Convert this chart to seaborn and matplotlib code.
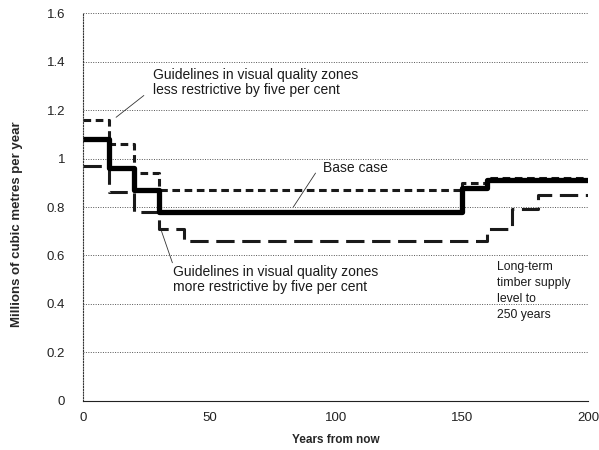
import numpy as np
import pandas as pd
import matplotlib
matplotlib.use('Agg')
import matplotlib.pyplot as plt
import seaborn as sns
from matplotlib.ticker import FuncFormatter

# Step breakpoints (years from now) and harvest levels (million m3/yr)
years = [0, 10, 20, 30, 40, 150, 160, 170, 180, 200]
base_case = [1.08, 0.96, 0.87, 0.78, 0.78, 0.88, 0.91, 0.91, 0.91, 0.91]
less_restrictive = [1.16, 1.06, 0.94, 0.87, 0.87, 0.90, 0.92, 0.92, 0.92, 0.92]
more_restrictive = [0.97, 0.86, 0.78, 0.71, 0.66, 0.66, 0.71, 0.79, 0.85, 0.85]
y_ticks = [0, 0.2, 0.4, 0.6, 0.8, 1.0, 1.2, 1.4, 1.6]
x_ticks = [0, 50, 100, 150, 200]

sns.set_theme(style="white")
plt.rcParams['font.family'] = ['Liberation Sans', 'DejaVu Sans']

fig = plt.figure(figsize=(5.99, 4.5), dpi=100)
ax = fig.add_axes([0.139, 0.109, 0.843, 0.862])

df = pd.DataFrame({'Years': years, 'Base': base_case,
                   'Less': less_restrictive, 'More': more_restrictive})

sns.lineplot(data=df, x='Years', y='More', ax=ax, color='#1a1a1a',
             linewidth=2.2, linestyle=(0, (6, 2.5)),
             drawstyle='steps-post', estimator=None, sort=False)
sns.lineplot(data=df, x='Years', y='Less', ax=ax, color='#1a1a1a',
             linewidth=2.2, linestyle=(0, (2.5, 1.5)),
             drawstyle='steps-post', estimator=None, sort=False)
sns.lineplot(data=df, x='Years', y='Base', ax=ax, color='black',
             linewidth=3.8, drawstyle='steps-post', estimator=None, sort=False)

ax.set_xlim(0, 200)
ax.set_ylim(0, 1.6)
ax.set_xticks(x_ticks)
ax.set_yticks(y_ticks)
ax.yaxis.set_major_formatter(FuncFormatter(lambda v, p: '%g' % round(v, 1)))
ax.tick_params(axis='x', labelsize=9.5, colors='#222222', length=3,
               direction='in', width=0.6, pad=8)
ax.tick_params(axis='y', labelsize=9.5, colors='#222222', length=4,
               direction='out', width=0.6, pad=9)

ax.grid(axis='y', linestyle=(0, (1, 1.5)), color='#555555', linewidth=0.7)
for s in ['top', 'right']:
    ax.spines[s].set_visible(False)
ax.spines['left'].set_linestyle((0, (1, 1.5)))
ax.spines['left'].set_color('#333333')
ax.spines['left'].set_linewidth(0.8)
ax.spines['bottom'].set_color('#222222')
ax.spines['bottom'].set_linewidth(0.8)

ax.set_xlabel('Years from now', fontsize=8.5, fontweight='bold', labelpad=7)
ax.set_ylabel('Millions of cubic metres per year', fontsize=9.5,
              fontweight='bold')
ax.yaxis.set_label_coords(-0.12, 0.456)

txt_kw = dict(fontsize=10, color='#1a1a1a')
ax.text(27.7, 1.313, 'Guidelines in visual quality zones\nless restrictive by five per cent',
        va='center', ha='left', linespacing=1.05, **txt_kw)
ax.plot([13, 24], [1.17, 1.26], color='#333333', lw=0.6)

ax.text(95, 0.96, 'Base case', va='center', ha='left', **txt_kw)
ax.plot([92, 83.2], [0.94, 0.80], color='#333333', lw=0.6)

ax.text(35.6, 0.50, 'Guidelines in visual quality zones\nmore restrictive by five per cent',
        va='center', ha='left', linespacing=1.05, **txt_kw)
ax.plot([31, 35.3], [0.70, 0.57], color='#333333', lw=0.6)

ax.text(164, 0.455, 'Long-term\ntimber supply\nlevel to\n250 years',
        va='center', ha='left', linespacing=1.45, fontsize=8.8, color='#1a1a1a')

fig.savefig('out.png', dpi=100)
